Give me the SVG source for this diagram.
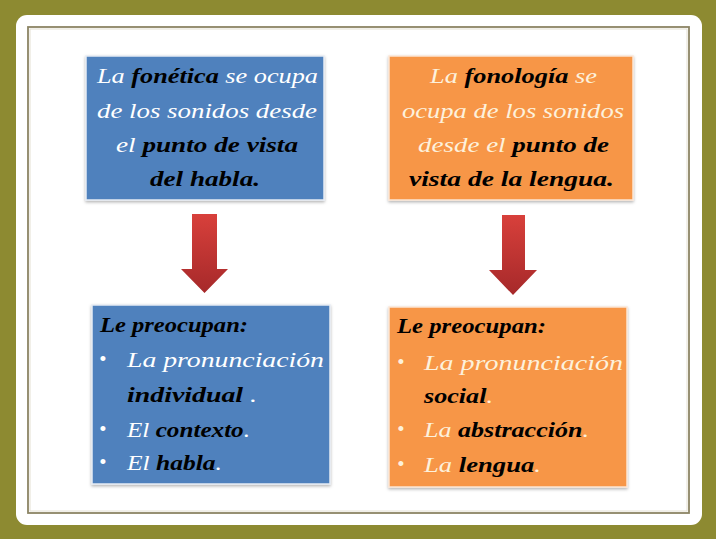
<svg xmlns="http://www.w3.org/2000/svg" width="716" height="539" viewBox="0 0 716 539">
<defs>
<style>
.t{font-family:"Liberation Serif","DejaVu Serif",serif;font-style:italic;font-size:21px}
.w{fill:#ffffff}
.c{fill:#fdf1dc}
.b{fill:#000000;font-weight:bold}
.blue{fill:#4f81bd;stroke:#e6ecf4;stroke-width:1.5}
.orange{fill:#f79646;stroke:#fbe6d6;stroke-width:1.5}
.arrow{fill:url(#ag)}
</style>
<linearGradient id="ag" x1="0" y1="0" x2="0" y2="1">
<stop offset="0" stop-color="#d8403b"/>
<stop offset="1" stop-color="#a6292a"/>
</linearGradient>
<filter id="sh" x="-5%" y="-5%" width="110%" height="115%">
<feDropShadow dx="0" dy="1.5" stdDeviation="1.5" flood-color="#000" flood-opacity="0.3"/>
</filter>
</defs>
<rect x="0" y="0" width="716" height="539" fill="#8d8a31"/>
<rect x="16" y="15" width="686" height="510" rx="11" fill="#ffffff"/>
<rect x="28" y="27" width="661" height="486" fill="none" stroke="#8c8464" stroke-width="1.8"/>
<rect x="30" y="29" width="657" height="482" fill="none" stroke="#e4e0d2" stroke-width="1"/>

<g id="fonetica">
<rect class="blue" x="86" y="56" width="238" height="144" filter="url(#sh)"/>
<text class="t" x="97" y="83" textLength="221" lengthAdjust="spacingAndGlyphs"><tspan class="w">La </tspan><tspan class="b">fonética</tspan><tspan class="w"> se ocupa</tspan></text>
<text class="t w" x="97" y="118" textLength="220" lengthAdjust="spacingAndGlyphs">de los sonidos desde</text>
<text class="t" x="116" y="152" textLength="182" lengthAdjust="spacingAndGlyphs"><tspan class="w">el </tspan><tspan class="b">punto de vista</tspan></text>
<text class="t b" x="150" y="186" textLength="110" lengthAdjust="spacingAndGlyphs">del habla.</text>
</g>

<g id="fonologia">
<rect class="orange" x="389" y="56" width="244" height="144" filter="url(#sh)"/>
<text class="t" x="430" y="83" textLength="167" lengthAdjust="spacingAndGlyphs"><tspan class="c">La </tspan><tspan class="b">fonología</tspan><tspan class="c"> se</tspan></text>
<text class="t c" x="402" y="118" textLength="222" lengthAdjust="spacingAndGlyphs">ocupa de los sonidos</text>
<text class="t" x="418" y="152" textLength="191" lengthAdjust="spacingAndGlyphs"><tspan class="c">desde el </tspan><tspan class="b">punto de</tspan></text>
<text class="t b" x="409" y="186" textLength="205" lengthAdjust="spacingAndGlyphs">vista de la lengua.</text>
</g>

<g id="connectors">
<path class="arrow" d="M192,214 H217 V269 H228 L204.5,293 L181,269 H192 Z"/>
<path class="arrow" d="M502,215 H525 V270 H537 L513,295 L489,270 H502 Z"/>
</g>

<g id="preocupan-fonetica">
<rect class="blue" x="92" y="305" width="238" height="179" filter="url(#sh)"/>
<text class="t b" x="100" y="332" textLength="148" lengthAdjust="spacingAndGlyphs">Le preocupan:</text>
<text class="t w" x="99" y="366" font-style="normal" font-size="16">•</text>
<text class="t w" x="127" y="367" textLength="197" lengthAdjust="spacingAndGlyphs">La pronunciación</text>
<text class="t" x="127" y="402" textLength="130" lengthAdjust="spacingAndGlyphs"><tspan class="b">individual</tspan><tspan class="w"> .</tspan></text>
<text class="t w" x="99" y="436" font-style="normal" font-size="16">•</text>
<text class="t" x="127" y="437" textLength="123" lengthAdjust="spacingAndGlyphs"><tspan class="w">El </tspan><tspan class="b">contexto</tspan><tspan class="w">.</tspan></text>
<text class="t w" x="99" y="469" font-style="normal" font-size="16">•</text>
<text class="t" x="127" y="470" textLength="95" lengthAdjust="spacingAndGlyphs"><tspan class="w">El </tspan><tspan class="b">habla</tspan><tspan class="w">.</tspan></text>
</g>

<g id="preocupan-fonologia">
<rect class="orange" x="389" y="307" width="238" height="180" filter="url(#sh)"/>
<text class="t b" x="397" y="333" textLength="149" lengthAdjust="spacingAndGlyphs">Le preocupan:</text>
<text class="t c" x="397" y="369" font-style="normal" font-size="16">•</text>
<text class="t c" x="424" y="370" textLength="199" lengthAdjust="spacingAndGlyphs">La pronunciación</text>
<text class="t" x="424" y="403" textLength="69" lengthAdjust="spacingAndGlyphs"><tspan class="b">social</tspan><tspan class="c">.</tspan></text>
<text class="t c" x="397" y="436" font-style="normal" font-size="16">•</text>
<text class="t" x="424" y="437" textLength="165" lengthAdjust="spacingAndGlyphs"><tspan class="c">La </tspan><tspan class="b">abstracción</tspan><tspan class="c">.</tspan></text>
<text class="t c" x="397" y="471" font-style="normal" font-size="16">•</text>
<text class="t" x="424" y="472" textLength="117" lengthAdjust="spacingAndGlyphs"><tspan class="c">La </tspan><tspan class="b">lengua</tspan><tspan class="c">.</tspan></text>
</g>
</svg>
